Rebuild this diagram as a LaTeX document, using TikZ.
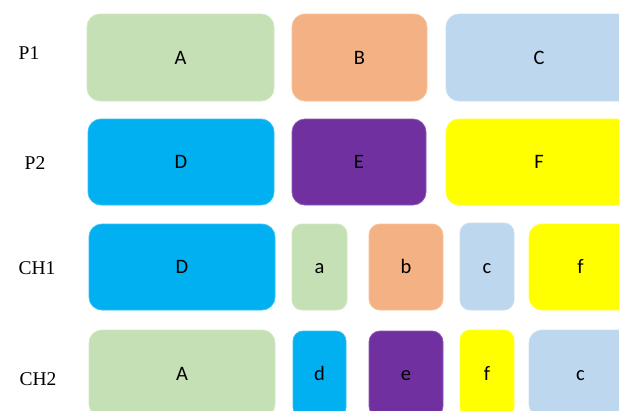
\documentclass[tikz,border=0pt]{standalone}
\usepackage{fontspec}
\setmainfont{Liberation Serif}
\newfontfamily\boxfont{Carlito}
\definecolor{cgreen}{HTML}{C5E0B4}
\definecolor{corange}{HTML}{F4B183}
\definecolor{clblue}{HTML}{BDD7EE}
\definecolor{cblue}{HTML}{00B0F0}
\definecolor{cpurple}{HTML}{7030A0}
\definecolor{cyellow}{HTML}{FFFF00}
\newcommand\bx[8]{\node[box, rounded corners=#8pt, fill=#6, draw=#6!80!white,
  minimum width={#4-#2}, minimum height={#5-#3}] (#1) at ({(#2+#4)/2},{(#3+#5)/2}) {#7};}
\begin{document}
\begin{tikzpicture}[x=1pt,y=-1pt,
  box/.style={inner sep=0pt, line width=0.8pt, text=black,
    font=\boxfont\fontsize{20.5}{24}\selectfont, text height=13pt, text depth=0pt},
  rowlabel/.style={inner sep=0pt, font=\fontsize{19.5}{22}\selectfont, text height=12.9pt, text depth=0pt}]
\useasboundingbox (0,0) rectangle (619,410);
\clip (0,0) rectangle (619,410);
% row labels
\node[rowlabel] (p1) at (29,53) {P1};
\node[rowlabel] (p2) at (35,163) {P2};
\node[rowlabel] (ch1) at (37,268) {CH1};
\node[rowlabel] (ch2) at (38,379) {CH2};
% P1
\bx{A1}{87}{14}{274}{101}{cgreen}{A}{13}
\bx{B1}{292}{14}{427}{101}{corange}{B}{13}
\bx{C1}{446}{14}{632}{101}{clblue}{C}{13}
% P2
\bx{D2}{88}{119}{274}{205}{cblue}{D}{13}
\bx{E2}{292}{119}{426}{205}{cpurple}{E}{13}
\bx{F2}{446}{119}{632}{205}{cyellow}{F}{13}
% CH1
\bx{D3}{89}{224}{275}{310}{cblue}{D}{13}
\bx{a3}{292}{224}{347}{310}{cgreen}{a}{10}
\bx{b3}{369}{224}{443}{310}{corange}{b}{11}
\bx{c3}{460}{223}{514}{310}{clblue}{c}{10}
\bx{f3}{529}{224}{632}{310}{cyellow}{f}{13}
% CH2
\bx{A4}{89}{330}{275}{417}{cgreen}{A}{13}
\bx{d4}{293}{331}{346}{417}{cblue}{d}{10}
\bx{e4}{369}{331}{443}{417}{cpurple}{e}{11}
\bx{f4}{460}{330}{514}{417}{cyellow}{f}{10}
\bx{c4}{529}{330}{632}{417}{clblue}{c}{13}
\end{tikzpicture}
\end{document}
